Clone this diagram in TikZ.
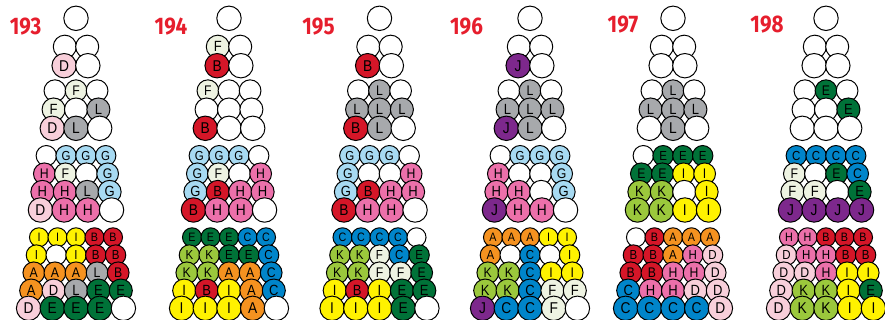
\documentclass[tikz,border=0pt]{standalone}
\usepackage{fontspec}
\setmainfont{Liberation Sans}
\newfontfamily\labelfont{Fira Sans}
\definecolor{labelred}{RGB}{230,30,45}
\definecolor{co}{RGB}{255,255,255}
\definecolor{cD}{RGB}{248,207,218}
\definecolor{cF}{RGB}{238,243,226}
\definecolor{cL}{RGB}{167,169,172}
\definecolor{cG}{RGB}{167,218,242}
\definecolor{cH}{RGB}{236,112,170}
\definecolor{cI}{RGB}{255,242,0}
\definecolor{cB}{RGB}{213,22,40}
\definecolor{cA}{RGB}{245,146,32}
\definecolor{cE}{RGB}{0,114,56}
\definecolor{cK}{RGB}{155,200,60}
\definecolor{cC}{RGB}{0,133,202}
\definecolor{cJ}{RGB}{125,40,140}
\newcommand\beadtext[1]{\if o#1\else\scalebox{0.88}[1]{#1}\fi}
% #1 name prefix, #2 centre x, #3 rows, #4 first y, #5 row step, #6 rows
\newcommand\beadgroup[6]{%
  \foreach \row [count=\bdR from 0] in {#6} {
    \pgfmathsetmacro\bdS{23.7-1.3*(#3-1-\bdR)}
    \pgfmathsetmacro\bdY{#4+#5*\bdR}
    \pgfmathsetmacro\bdF{0.66*\bdS}
    \pgfmathsetmacro\bdD{1.03*\bdS}
    \foreach \L [count=\bdK from 0] in \row {
      \pgfmathsetmacro\bdX{#2+(\bdK-(#3-1)/2)*\bdS}
      \node[bead, fill=c\L, minimum size=\bdD pt,
            font=\fontsize{\bdF pt}{\bdF pt}\selectfont]
            (#1-\bdR-\bdK) at (\bdX,\bdY) {\beadtext{\L}};
    }
  }%
}
% #1 number, #2 centre x, #3-#6 groups of 2..5 rows, #7 label position
\newcommand\beadcolumn[7]{%
  \beadgroup{c#1g0}{#2}{1}{18.3}{0}{{o}}
  \beadgroup{c#1g1}{#2}{2}{46.7}{19}{#3}
  \beadgroup{c#1g2}{#2}{3}{90.7}{18.8}{#4}
  \beadgroup{c#1g3}{#2}{4}{155.7}{18.1}{#5}
  \beadgroup{c#1g4}{#2}{5}{237.3}{17.75}{#6}
  \node[numlabel] (lab#1) at #7 {\scalebox{0.86}[1]{#1}};
}
\begin{document}
\begin{tikzpicture}[x=1pt,y=-1pt,
  bead/.style={circle, draw=black, line width=1pt, inner sep=0pt, text=black},
  numlabel/.style={text=labelred, inner sep=0pt,
    font=\labelfont\bfseries\fontsize{24}{24}\selectfont}]
\useasboundingbox (0,0) rectangle (885,320);
\beadcolumn{193}{76}
  {{o,o},{D,o}}
  {{o,F,o},{F,o,L},{D,L,o}}
  {{o,G,G,G},{H,F,o,G},{H,H,L,G},{D,H,H,o}}
  {{I,I,I,B,B},{I,o,I,B,B},{A,A,A,L,B},{A,D,L,E,E},{D,E,E,E,o}}
  {(25.5,27)}
\beadcolumn{194}{229}
  {{F,o},{B,o}}
  {{F,o,o},{o,o,o},{B,o,o}}
  {{G,G,G,o},{G,F,o,H},{G,B,H,H},{B,H,H,o}}
  {{E,E,E,C,C},{K,K,E,E,C},{K,K,A,A,C},{I,B,I,A,C},{I,I,I,A,o}}
  {(171,27)}
\beadcolumn{195}{379.5}
  {{o,o},{B,o}}
  {{o,L,o},{L,L,L},{B,L,o}}
  {{G,G,G,o},{G,o,o,H},{G,B,H,H},{B,H,H,o}}
  {{C,C,C,C,o},{K,K,F,C,E},{K,K,F,F,E},{I,B,I,E,E},{I,I,I,E,o}}
  {(318.5,27)}
\beadcolumn{196}{530}
  {{o,o},{J,o}}
  {{o,L,o},{L,L,L},{J,L,o}}
  {{o,G,G,G},{H,o,o,G},{H,H,o,G},{J,H,H,o}}
  {{A,A,A,I,I},{A,o,C,o,I},{K,K,C,I,I},{K,K,C,F,F},{J,C,C,F,o}}
  {(466.5,27)}
\beadcolumn{197}{673}
  {{o,o},{o,o}}
  {{o,L,o},{L,L,L},{o,L,o}}
  {{o,E,E,E},{E,E,I,I},{K,K,o,I},{K,K,I,I}}
  {{o,B,A,A,A},{B,B,A,H,D},{B,B,H,H,D},{C,H,H,D,D},{C,C,C,C,D}}
  {(623,25)}
\beadcolumn{198}{826}
  {{o,o},{o,o}}
  {{o,E,o},{o,o,E},{o,o,o}}
  {{C,C,C,C},{F,o,E,C},{F,F,o,E},{J,J,J,J}}
  {{H,H,B,B,B},{D,H,H,B,B},{D,D,H,I,I},{D,K,K,I,E},{D,K,K,I,I}}
  {(767,25)}
\end{tikzpicture}
\end{document}
